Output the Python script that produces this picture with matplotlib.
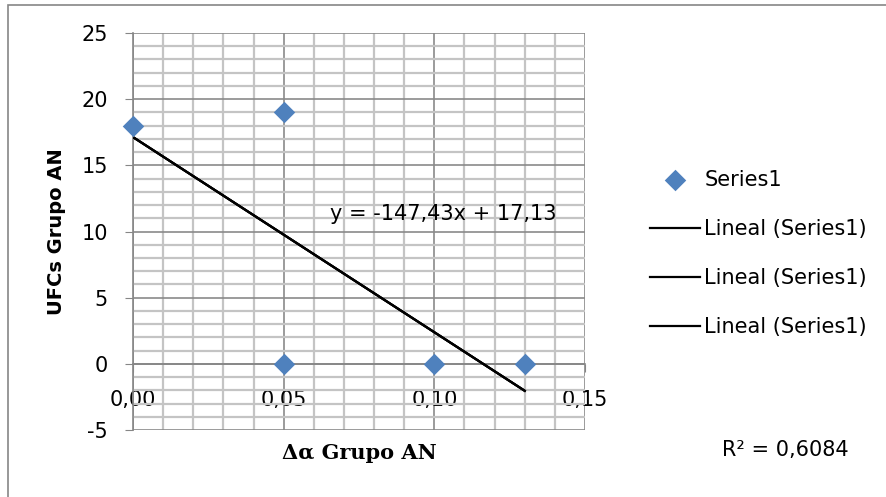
import numpy as np
import matplotlib
matplotlib.use("Agg")
import matplotlib.pyplot as plt
from matplotlib.patches import Rectangle

# Datos
delta_alfa = [0.00, 0.05, 0.05, 0.10, 0.13]
ufcs = [18, 19, 0, 0, 0]
x_ticks = [0.00, 0.05, 0.10, 0.15]
x_tick_labels = ["0,00", "0,05", "0,10", "0,15"]
y_ticks = [-5, 0, 5, 10, 15, 20, 25]
texto_ecuacion = "y = -147,43x + 17,13"
texto_r2 = "R² = 0,6084"

plt.rcParams['font.family'] = ['DejaVu Sans']
plt.rcParams['axes.unicode_minus'] = False

fig = plt.figure(figsize=(8.87, 4.97), dpi=100)
ax = fig.add_axes([0.15, 0.1348, 0.5095, 0.7988])

# Línea de tendencia lineal
pendiente, ordenada = np.polyfit(delta_alfa, ufcs, 1)
x_lin = np.array([min(delta_alfa), max(delta_alfa)])
y_lin = pendiente * x_lin + ordenada

ax.scatter(delta_alfa, ufcs, marker='D', s=120, color='#4F81BD', zorder=5,
           label='Series1', linewidths=0, clip_on=False)
for i in range(3):
    ax.plot(x_lin, y_lin, color='black', linewidth=1.6, zorder=4, label='Lineal (Series1)')

ax.set_xlim(0, 0.15)
ax.set_ylim(-5, 25)
ax.set_xticks(x_ticks)
ax.set_xticklabels(x_tick_labels)
ax.set_yticks(y_ticks)
ax.set_xticks(np.arange(0, 0.1501, 0.01), minor=True)
ax.set_yticks(np.arange(-5, 25.01, 1), minor=True)

# Rejilla estilo Excel
ax.grid(which='minor', color='#C4C4C4', linewidth=1.6)
ax.grid(which='major', color='#8A8A8A', linewidth=1.2)
ax.set_axisbelow(True)

for lado in ['top', 'right']:
    ax.spines[lado].set_visible(False)
ax.spines['left'].set_color('#868686')
ax.spines['left'].set_linewidth(1.2)
ax.spines['bottom'].set_position(('data', 0))
ax.spines['bottom'].set_color('#868686')
ax.spines['bottom'].set_linewidth(1.2)

ax.tick_params(which='minor', length=0)
ax.tick_params(axis='y', which='major', length=6, color='#868686', labelsize=15, pad=12)
ax.tick_params(axis='x', which='major', length=6, color='#868686', labelsize=15, pad=13)

ax.set_ylabel("UFCs Grupo AN", fontsize=14, fontweight='bold', va='center')
ax.yaxis.set_label_coords(-0.17, 0.5)
ax.set_xlabel("Δα Grupo AN", fontsize=15, fontweight='bold', va='center',
              family=['DejaVu Serif'])
ax.xaxis.set_label_coords(0.5, -0.058)

ax.text(0.0655, 11.3, texto_ecuacion, fontsize=15, va='center', ha='left')

fig.text(722 / 887, 1 - 450 / 497, texto_r2, fontsize=15, ha='left', va='center')

ax.legend(loc='upper left', bbox_to_anchor=(1.144, 0.655), frameon=False, fontsize=15,
          handlelength=2.4, handletextpad=0.2, labelspacing=1.4, borderaxespad=0,
          borderpad=0)

# Marco exterior
fig.patches.append(Rectangle((8 / 887, -0.01), 1.0, 1 - 5 / 497 + 0.01,
                             transform=fig.transFigure, fill=False,
                             edgecolor='#868686', linewidth=1.2))

fig.savefig("out.png", dpi=100)
